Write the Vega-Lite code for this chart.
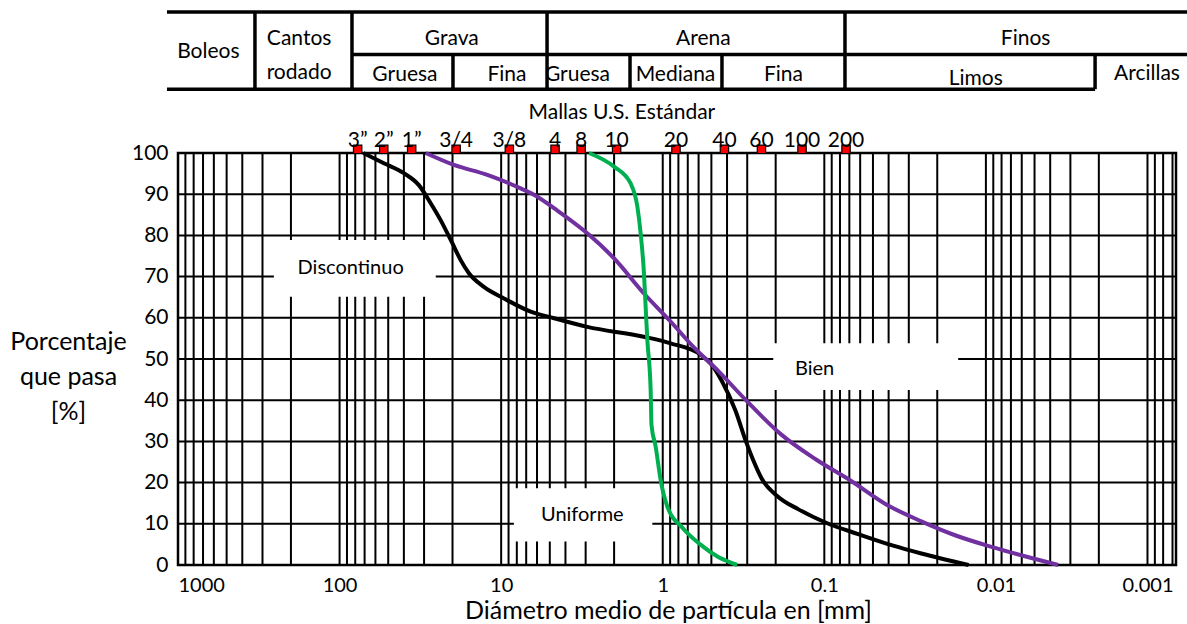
{
  "$schema": "https://vega.github.io/schema/vega-lite/v6.json",
  "width": 998,
  "height": 412,
  "autosize": {"type": "none"},
  "padding": {"left": 178, "top": 153, "right": 11, "bottom": 59},
  "background": "white",
  "config": {"view": {"stroke": "black", "strokeWidth": 2.5}, "font": "Lato"},
  "datasets": {
    "vgrid": [
      {"d": 900}, {"d": 800}, {"d": 700}, {"d": 600}, {"d": 500}, {"d": 400}, {"d": 300}, {"d": 200}, {"d": 100},
      {"d": 90}, {"d": 80}, {"d": 70}, {"d": 60}, {"d": 50}, {"d": 40}, {"d": 30}, {"d": 20}, {"d": 10},
      {"d": 9}, {"d": 8}, {"d": 7}, {"d": 6}, {"d": 5}, {"d": 4}, {"d": 3}, {"d": 2}, {"d": 1},
      {"d": 0.9}, {"d": 0.8}, {"d": 0.7}, {"d": 0.6}, {"d": 0.5}, {"d": 0.4}, {"d": 0.3}, {"d": 0.2}, {"d": 0.1},
      {"d": 0.09}, {"d": 0.08}, {"d": 0.07}, {"d": 0.06}, {"d": 0.05}, {"d": 0.04}, {"d": 0.03}, {"d": 0.02}, {"d": 0.01},
      {"d": 0.009}, {"d": 0.008}, {"d": 0.007}, {"d": 0.006}, {"d": 0.005}, {"d": 0.004}, {"d": 0.003}, {"d": 0.002}, {"d": 0.001},
      {"d": 0.0009}, {"d": 0.0008}, {"d": 0.0007}
    ],
    "hgrid": [
      {"p": 10}, {"p": 20}, {"p": 30}, {"p": 40}, {"p": 50}, {"p": 60}, {"p": 70}, {"p": 80}, {"p": 90}
    ],
    "boxes": [
      {"d": 254.9, "d2": 25.4, "p": 78.9, "p2": 65.1},
      {"d": 0.207, "d2": 0.01485, "p": 53.8, "p2": 42.5},
      {"d": 8.34, "d2": 1.16, "p": 18.6, "p2": 5.7}
    ],
    "boxlabels": [
      {"t": "Discontinuo", "d": 85.4, "p": 72.0},
      {"t": "Bien", "d": 0.1148, "p": 47.5},
      {"t": "Uniforme", "d": 3.146, "p": 12.1}
    ],
    "tablelines": [
      {"d": 1170, "d2": 0.000569, "p": 134.2, "p2": 134.2},
      {"d": 83.8, "d2": 0.000569, "p": 123.9, "p2": 123.9},
      {"d": 1170, "d2": 0.00211, "p": 115.5, "p2": 115.5},
      {"d": 334, "d2": 334, "p": 134.2, "p2": 115.5},
      {"d": 83.8, "d2": 83.8, "p": 134.2, "p2": 115.5},
      {"d": 19.87, "d2": 19.87, "p": 123.9, "p2": 115.5},
      {"d": 5.2, "d2": 5.2, "p": 134.2, "p2": 115.5},
      {"d": 1.594, "d2": 1.594, "p": 123.9, "p2": 115.5},
      {"d": 0.43, "d2": 0.43, "p": 123.9, "p2": 115.5},
      {"d": 0.0745, "d2": 0.0745, "p": 134.2, "p2": 115.5},
      {"d": 0.00211, "d2": 0.00211, "p": 123.9, "p2": 115.5}
    ],
    "tablelabels": [
      {"t": "Boleos", "d": 649, "p": 124.4},
      {"t": "Cantos", "d": 178, "p": 127.7},
      {"t": "rodado", "d": 178, "p": 119.3},
      {"t": "Grava", "d": 20.2, "p": 127.7},
      {"t": "Gruesa", "d": 39.4, "p": 118.9},
      {"t": "Fina", "d": 9.2, "p": 118.9},
      {"t": "Arena", "d": 0.56, "p": 127.7},
      {"t": "Gruesa", "d": 3.37, "p": 118.9},
      {"t": "Mediana", "d": 0.834, "p": 118.9},
      {"t": "Fina", "d": 0.179, "p": 118.9},
      {"t": "Finos", "d": 0.00568, "p": 127.7},
      {"t": "Limos", "d": 0.01155, "p": 118.0},
      {"t": "Arcillas", "d": 0.001007, "p": 119.2},
      {"t": "Mallas  U.S.  Estándar", "d": 1.79, "p": 109.7}
    ],
    "sieves": [
      {"m": "3”", "d": 77.3}, {"m": "2”", "d": 53.3}, {"m": "1”", "d": 35.8}, {"m": "3/4", "d": 19.0},
      {"m": "3/8", "d": 8.9}, {"m": "4", "d": 4.64}, {"m": "8", "d": 3.2}, {"m": "10", "d": 1.93},
      {"m": "20", "d": 0.828}, {"m": "40", "d": 0.415}, {"m": "60", "d": 0.245}, {"m": "100", "d": 0.1374},
      {"m": "200", "d": 0.0734}
    ],
    "curves": [
      {"s": "Discontinuo", "d": 71.3, "p": 100}, {"s": "Discontinuo", "d": 53.2, "p": 97.5},
      {"s": "Discontinuo", "d": 40.0, "p": 95.1}, {"s": "Discontinuo", "d": 32.3, "p": 92.2},
      {"s": "Discontinuo", "d": 27.3, "p": 87.8}, {"s": "Discontinuo", "d": 23.7, "p": 83.7},
      {"s": "Discontinuo", "d": 20.05, "p": 78.1}, {"s": "Discontinuo", "d": 17.8, "p": 74.0},
      {"s": "Discontinuo", "d": 15.83, "p": 70.8}, {"s": "Discontinuo", "d": 12.79, "p": 67.5},
      {"s": "Discontinuo", "d": 9.61, "p": 64.7}, {"s": "Discontinuo", "d": 6.57, "p": 61.5},
      {"s": "Discontinuo", "d": 4.71, "p": 59.9}, {"s": "Discontinuo", "d": 2.93, "p": 57.8},
      {"s": "Discontinuo", "d": 1.31, "p": 55.4}, {"s": "Discontinuo", "d": 0.894, "p": 53.8},
      {"s": "Discontinuo", "d": 0.582, "p": 51.0}, {"s": "Discontinuo", "d": 0.491, "p": 48.3},
      {"s": "Discontinuo", "d": 0.434, "p": 44.9}, {"s": "Discontinuo", "d": 0.355, "p": 37.5},
      {"s": "Discontinuo", "d": 0.3055, "p": 30}, {"s": "Discontinuo", "d": 0.2765, "p": 25.6},
      {"s": "Discontinuo", "d": 0.2443, "p": 21}, {"s": "Discontinuo", "d": 0.195, "p": 16.7},
      {"s": "Discontinuo", "d": 0.1444, "p": 13.5}, {"s": "Discontinuo", "d": 0.0967, "p": 10.2},
      {"s": "Discontinuo", "d": 0.0617, "p": 7.5}, {"s": "Discontinuo", "d": 0.0375, "p": 4.7},
      {"s": "Discontinuo", "d": 0.0251, "p": 2.8}, {"s": "Discontinuo", "d": 0.0128, "p": 0},
      {"s": "Bien", "d": 29.3, "p": 100}, {"s": "Bien", "d": 19.6, "p": 97.1},
      {"s": "Bien", "d": 12.18, "p": 94.7}, {"s": "Bien", "d": 7.57, "p": 91.4},
      {"s": "Bien", "d": 5.97, "p": 89.4}, {"s": "Bien", "d": 4.71, "p": 86.6},
      {"s": "Bien", "d": 2.93, "p": 80.5}, {"s": "Bien", "d": 2.0, "p": 74.4},
      {"s": "Bien", "d": 1.307, "p": 65.9}, {"s": "Bien", "d": 0.894, "p": 59.1},
      {"s": "Bien", "d": 0.648, "p": 53}, {"s": "Bien", "d": 0.451, "p": 47},
      {"s": "Bien", "d": 0.3055, "p": 40}, {"s": "Bien", "d": 0.1853, "p": 31.7},
      {"s": "Bien", "d": 0.1125, "p": 25.6}, {"s": "Bien", "d": 0.0682, "p": 20.4},
      {"s": "Bien", "d": 0.0414, "p": 14.7}, {"s": "Bien", "d": 0.0251, "p": 10.6},
      {"s": "Bien", "d": 0.01521, "p": 7.1}, {"s": "Bien", "d": 0.00923, "p": 4.4},
      {"s": "Bien", "d": 0.00559, "p": 2.0}, {"s": "Bien", "d": 0.00357, "p": 0},
      {"s": "Uniforme", "d": 2.862, "p": 100}, {"s": "Uniforme", "d": 2.004, "p": 96.7},
      {"s": "Uniforme", "d": 1.58, "p": 92.6}, {"s": "Uniforme", "d": 1.436, "p": 87.0},
      {"s": "Uniforme", "d": 1.37, "p": 80.5}, {"s": "Uniforme", "d": 1.307, "p": 70.8},
      {"s": "Uniforme", "d": 1.276, "p": 62.7}, {"s": "Uniforme", "d": 1.245, "p": 54.6},
      {"s": "Uniforme", "d": 1.188, "p": 42.5}, {"s": "Uniforme", "d": 1.174, "p": 34},
      {"s": "Uniforme", "d": 1.106, "p": 28.7}, {"s": "Uniforme", "d": 1.03, "p": 20.6},
      {"s": "Uniforme", "d": 0.937, "p": 14.2}, {"s": "Uniforme", "d": 0.753, "p": 9},
      {"s": "Uniforme", "d": 0.586, "p": 5}, {"s": "Uniforme", "d": 0.456, "p": 2},
      {"s": "Uniforme", "d": 0.346, "p": 0}
    ]
  },
  "layer": [
    {
      "data": {"name": "vgrid"},
      "mark": {"type": "rule", "color": "black", "strokeWidth": 2},
      "encoding": {
        "x": {
          "field": "d", "type": "quantitative",
          "scale": {"type": "log", "domain": [0.000666, 1000], "reverse": true, "nice": false},
          "axis": {
            "values": [1000, 100, 10, 1, 0.1, 0.01, 0.001],
            "format": "~g",
            "domain": false, "ticks": false, "grid": false,
            "labelFlush": false,
            "labelAlign": {"condition": {"test": "datum.value >= 1000", "value": "left"}, "value": "center"},
            "labelOffset": {"condition": {"test": "datum.value == 0.01", "value": 10}, "value": 0},
            "labelPadding": 10,
            "labelFont": "Lato", "labelFontSize": 20, "labelColor": "black",
            "title": "Diámetro medio de partícula en [mm]",
            "titleFont": "Lato", "titleFontSize": 25, "titleFontWeight": "normal", "titleColor": "black",
            "titleX": 490, "titleY": 45, "titleAlign": "center", "titleBaseline": "middle"
          }
        }
      }
    },
    {
      "data": {"name": "hgrid"},
      "mark": {"type": "rule", "color": "black", "strokeWidth": 2},
      "encoding": {
        "y": {
          "field": "p", "type": "quantitative",
          "scale": {"domain": [0, 100], "nice": false, "zero": false},
          "axis": {
            "values": [0, 10, 20, 30, 40, 50, 60, 70, 80, 90, 100],
            "domain": false, "ticks": false, "grid": false,
            "labelPadding": 10,
            "labelFont": "Lato", "labelFontSize": 21, "labelColor": "black",
            "title": ["Porcentaje", "que pasa", "[%]"],
            "titleFont": "Lato", "titleFontSize": 25, "titleFontWeight": "normal", "titleColor": "black",
            "titleAngle": 0, "titleX": -110, "titleY": 188, "titleAlign": "center", "titleBaseline": "middle",
            "titleLineHeight": 35
          }
        }
      }
    },
    {
      "data": {"name": "boxes"},
      "mark": {"type": "rect", "fill": "white", "strokeWidth": 0},
      "encoding": {
        "x": {"field": "d", "type": "quantitative"},
        "x2": {"field": "d2"},
        "y": {"field": "p", "type": "quantitative"},
        "y2": {"field": "p2"}
      }
    },
    {
      "data": {"name": "tablelines"},
      "mark": {"type": "rule", "color": "black", "strokeWidth": 3.5},
      "encoding": {
        "x": {"field": "d", "type": "quantitative"},
        "x2": {"field": "d2"},
        "y": {"field": "p", "type": "quantitative"},
        "y2": {"field": "p2"}
      }
    },
    {
      "data": {"name": "curves"},
      "mark": {"type": "line", "strokeWidth": 4, "interpolate": "monotone"},
      "encoding": {
        "x": {"field": "d", "type": "quantitative"},
        "y": {"field": "p", "type": "quantitative"},
        "color": {
          "field": "s", "type": "nominal", "legend": null,
          "scale": {"domain": ["Discontinuo", "Bien", "Uniforme"], "range": ["#000000", "#7030A0", "#00B050"]}
        }
      }
    },
    {
      "data": {"name": "sieves"},
      "mark": {"type": "square", "size": 70, "fill": "#FF0000", "stroke": "black", "strokeWidth": 1.2, "filled": true, "opacity": 1},
      "encoding": {
        "x": {"field": "d", "type": "quantitative"},
        "y": {"datum": 100.9, "type": "quantitative"}
      }
    },
    {
      "data": {"name": "sieves"},
      "mark": {"type": "text", "font": "Lato", "fontSize": 21, "color": "black", "baseline": "middle", "align": "center"},
      "encoding": {
        "x": {"field": "d", "type": "quantitative"},
        "y": {"datum": 102.9, "type": "quantitative"},
        "text": {"field": "m"}
      }
    },
    {
      "data": {"name": "boxlabels"},
      "mark": {"type": "text", "font": "Lato", "fontSize": 20, "color": "black", "baseline": "middle", "align": "center"},
      "encoding": {
        "x": {"field": "d", "type": "quantitative"},
        "y": {"field": "p", "type": "quantitative"},
        "text": {"field": "t"}
      }
    },
    {
      "data": {"name": "tablelabels"},
      "mark": {"type": "text", "font": "Lato", "fontSize": 21, "color": "black", "baseline": "middle", "align": "center"},
      "encoding": {
        "x": {"field": "d", "type": "quantitative"},
        "y": {"field": "p", "type": "quantitative"},
        "text": {"field": "t"}
      }
    }
  ]
}
